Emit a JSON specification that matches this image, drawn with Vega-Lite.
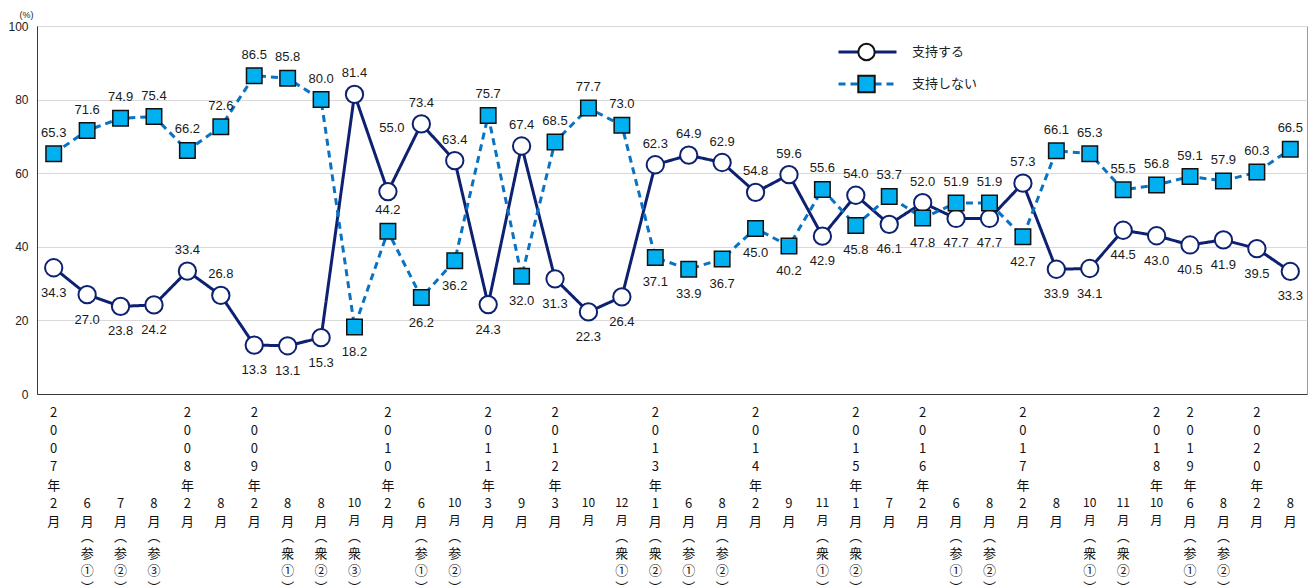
{
  "$schema": "https://vega.github.io/schema/vega-lite/v6.json",
  "width": 1270,
  "height": 368,
  "autosize": {"type": "none"},
  "padding": {"left": 37, "top": 26, "right": 5, "bottom": 191},
  "background": "white",
  "config": {
    "view": {"stroke": "#9a9a9a", "strokeWidth": 1},
    "font": "Liberation Sans",
    "legend": {"padding": 0}
  },
  "data": {
    "values": [
      {"n": 0, "year": "2007", "month": "2", "note": "", "支持する": 34.3, "支持しない": 65.3},
      {"n": 1, "year": "", "month": "6", "note": "参①", "支持する": 27.0, "支持しない": 71.6},
      {"n": 2, "year": "", "month": "7", "note": "参②", "支持する": 23.8, "支持しない": 74.9},
      {"n": 3, "year": "", "month": "8", "note": "参③", "支持する": 24.2, "支持しない": 75.4},
      {"n": 4, "year": "2008", "month": "2", "note": "", "支持する": 33.4, "支持しない": 66.2},
      {"n": 5, "year": "", "month": "8", "note": "", "支持する": 26.8, "支持しない": 72.6},
      {"n": 6, "year": "2009", "month": "2", "note": "", "支持する": 13.3, "支持しない": 86.5},
      {"n": 7, "year": "", "month": "8", "note": "衆①", "支持する": 13.1, "支持しない": 85.8},
      {"n": 8, "year": "", "month": "8", "note": "衆②", "支持する": 15.3, "支持しない": 80.0},
      {"n": 9, "year": "", "month": "10", "note": "衆③", "支持する": 81.4, "支持しない": 18.2},
      {"n": 10, "year": "2010", "month": "2", "note": "", "支持する": 55.0, "支持しない": 44.2},
      {"n": 11, "year": "", "month": "6", "note": "参①", "支持する": 73.4, "支持しない": 26.2},
      {"n": 12, "year": "", "month": "10", "note": "参②", "支持する": 63.4, "支持しない": 36.2},
      {"n": 13, "year": "2011", "month": "3", "note": "", "支持する": 24.3, "支持しない": 75.7},
      {"n": 14, "year": "", "month": "9", "note": "", "支持する": 67.4, "支持しない": 32.0},
      {"n": 15, "year": "2012", "month": "3", "note": "", "支持する": 31.3, "支持しない": 68.5},
      {"n": 16, "year": "", "month": "10", "note": "", "支持する": 22.3, "支持しない": 77.7},
      {"n": 17, "year": "", "month": "12", "note": "衆①", "支持する": 26.4, "支持しない": 73.0},
      {"n": 18, "year": "2013", "month": "1", "note": "衆②", "支持する": 62.3, "支持しない": 37.1},
      {"n": 19, "year": "", "month": "6", "note": "参①", "支持する": 64.9, "支持しない": 33.9},
      {"n": 20, "year": "", "month": "8", "note": "参②", "支持する": 62.9, "支持しない": 36.7},
      {"n": 21, "year": "2014", "month": "2", "note": "", "支持する": 54.8, "支持しない": 45.0},
      {"n": 22, "year": "", "month": "9", "note": "", "支持する": 59.6, "支持しない": 40.2},
      {"n": 23, "year": "", "month": "11", "note": "衆①", "支持する": 42.9, "支持しない": 55.6},
      {"n": 24, "year": "2015", "month": "1", "note": "衆②", "支持する": 54.0, "支持しない": 45.8},
      {"n": 25, "year": "", "month": "7", "note": "", "支持する": 46.1, "支持しない": 53.7},
      {"n": 26, "year": "2016", "month": "2", "note": "", "支持する": 52.0, "支持しない": 47.8},
      {"n": 27, "year": "", "month": "6", "note": "参①", "支持する": 47.7, "支持しない": 51.9},
      {"n": 28, "year": "", "month": "8", "note": "参②", "支持する": 47.7, "支持しない": 51.9},
      {"n": 29, "year": "2017", "month": "2", "note": "", "支持する": 57.3, "支持しない": 42.7},
      {"n": 30, "year": "", "month": "8", "note": "", "支持する": 33.9, "支持しない": 66.1},
      {"n": 31, "year": "", "month": "10", "note": "衆①", "支持する": 34.1, "支持しない": 65.3},
      {"n": 32, "year": "", "month": "11", "note": "衆②", "支持する": 44.5, "支持しない": 55.5},
      {"n": 33, "year": "2018", "month": "10", "note": "", "支持する": 43.0, "支持しない": 56.8},
      {"n": 34, "year": "2019", "month": "6", "note": "参①", "支持する": 40.5, "支持しない": 59.1},
      {"n": 35, "year": "", "month": "8", "note": "参②", "支持する": 41.9, "支持しない": 57.9},
      {"n": 36, "year": "2020", "month": "2", "note": "", "支持する": 39.5, "支持しない": 60.3},
      {"n": 37, "year": "", "month": "8", "note": "", "支持する": 33.3, "支持しない": 66.5}
    ]
  },
  "transform": [
    {"fold": ["支持する", "支持しない"], "as": ["series", "value"]}
  ],
  "encoding": {
    "x": {
      "field": "n",
      "type": "ordinal",
      "sort": null,
      "scale": {"type": "point", "padding": 0.5},
      "axis": {"labels": false, "ticks": false, "title": null, "grid": false, "domainColor": "#3a3a3a", "domainWidth": 1}
    }
  },
  "layer": [
    {
      "mark": {"type": "line", "strokeWidth": 3},
      "encoding": {
        "y": {
          "field": "value",
          "type": "quantitative",
          "scale": {"domain": [0, 100], "nice": false},
          "axis": {
            "values": [0, 20, 40, 60, 80, 100],
            "grid": true,
            "gridColor": "#d9d9d9",
            "ticks": false,
            "labelPadding": 9,
            "labelFontSize": 12,
            "labelColor": "#222222",
            "labelFont": "Liberation Sans",
            "domainColor": "#3a3a3a",
            "title": "(%)",
            "titleAngle": 0,
            "titleFontSize": 9,
            "titleFontWeight": "normal",
            "titleColor": "#222222",
            "titleX": -11,
            "titleY": -12,
            "titleAlign": "center",
            "titleBaseline": "middle"
          }
        },
        "stroke": {
          "field": "series",
          "type": "nominal",
          "scale": {"domain": ["支持する", "支持しない"], "range": ["#0d2170", "#0a72c2"]},
          "legend": {
            "orient": "none",
            "legendX": 800,
            "legendY": 16,
            "title": null,
            "symbolType": "stroke",
            "symbolSize": 3364,
            "symbolStrokeWidth": 3,
            "clipHeight": 20,
            "rowPadding": 12,
            "labelFont": "Noto Sans CJK JP",
            "labelFontSize": 13,
            "labelColor": "#222222",
            "labelOffset": 14
          }
        },
        "strokeDash": {
          "field": "series",
          "type": "nominal",
          "scale": {"domain": ["支持する", "支持しない"], "range": [[1, 0], [7, 5]]},
          "legend": {
            "orient": "none",
            "legendX": 800,
            "legendY": 16,
            "title": null,
            "symbolType": "stroke",
            "symbolSize": 3364,
            "symbolStrokeWidth": 3,
            "clipHeight": 20,
            "rowPadding": 12,
            "labelFont": "Noto Sans CJK JP",
            "labelFontSize": 13,
            "labelColor": "#222222",
            "labelOffset": 14
          }
        }
      }
    },
    {
      "mark": {"type": "point", "filled": true, "opacity": 1},
      "encoding": {
        "y": {"field": "value", "type": "quantitative"},
        "shape": {
          "field": "series",
          "type": "nominal",
          "sort": "descending",
          "scale": {"range": ["circle", "square"]},
          "legend": {
            "orient": "none",
            "legendX": 820,
            "legendY": 16,
            "title": null,
            "symbolSize": 270,
            "symbolStrokeWidth": 2,
            "clipHeight": 20,
            "rowPadding": 12,
            "labelOpacity": 0,
            "labelFontSize": 13,
            "encode": {
              "symbols": {
                "update": {
                  "stroke": {"signal": "datum.value === '支持する' ? '#0d2170' : '#111111'"},
                  "strokeWidth": {"signal": "datum.value === '支持する' ? 2 : 1.5"},
                  "opacity": {"value": 1}
                }
              }
            }
          }
        },
        "fill": {
          "field": "series",
          "type": "nominal",
          "sort": "descending",
          "scale": {"range": ["#ffffff", "#00b0f0"]},
          "legend": {
            "orient": "none",
            "legendX": 820,
            "legendY": 16,
            "title": null,
            "symbolSize": 270,
            "symbolStrokeWidth": 2,
            "clipHeight": 20,
            "rowPadding": 12,
            "labelOpacity": 0,
            "labelFontSize": 13,
            "encode": {
              "symbols": {
                "update": {
                  "stroke": {"signal": "datum.value === '支持する' ? '#0d2170' : '#111111'"},
                  "strokeWidth": {"signal": "datum.value === '支持する' ? 2 : 1.5"},
                  "opacity": {"value": 1}
                }
              }
            }
          }
        },
        "stroke": {"condition": {"test": "datum.series === '支持する'", "value": "#0d2170"}, "value": "#111111"},
        "strokeWidth": {"condition": {"test": "datum.series === '支持する'", "value": 2}, "value": 1.5},
        "size": {"condition": {"test": "datum.series === '支持する'", "value": 300}, "value": 240}
      }
    },
    {
      "transform": [{"filter": "datum.series === '支持する' && indexof([4,5,9,11,12,14,18,19,20,21,22,24,26,29], datum.n) >= 0"}],
      "mark": {"type": "text", "baseline": "middle", "dy": -21, "fontSize": 13, "color": "#1a1a1a"},
      "encoding": {"y": {"field": "value", "type": "quantitative"}, "text": {"field": "value", "type": "quantitative", "format": ".1f"}}
    },
    {
      "transform": [{"filter": "datum.series === '支持する' && datum.n === 10"}],
      "mark": {"type": "text", "baseline": "middle", "dy": -64, "dx": 4, "fontSize": 13, "color": "#1a1a1a"},
      "encoding": {"y": {"field": "value", "type": "quantitative"}, "text": {"field": "value", "type": "quantitative", "format": ".1f"}}
    },
    {
      "transform": [{"filter": "datum.series === '支持する' && indexof([4,5,9,10,11,12,14,18,19,20,21,22,24,26,29], datum.n) < 0"}],
      "mark": {"type": "text", "baseline": "middle", "dy": 25, "fontSize": 13, "color": "#1a1a1a"},
      "encoding": {"y": {"field": "value", "type": "quantitative"}, "text": {"field": "value", "type": "quantitative", "format": ".1f"}}
    },
    {
      "transform": [{"filter": "datum.series === '支持しない' && indexof([9,11,12,14,18,19,20,21,22,24,26,29], datum.n) < 0"}],
      "mark": {"type": "text", "baseline": "middle", "dy": -21, "fontSize": 13, "color": "#1a1a1a"},
      "encoding": {"y": {"field": "value", "type": "quantitative"}, "text": {"field": "value", "type": "quantitative", "format": ".1f"}}
    },
    {
      "transform": [{"filter": "datum.series === '支持しない' && indexof([9,11,12,14,18,19,20,21,22,24,26,29], datum.n) >= 0"}],
      "mark": {"type": "text", "baseline": "middle", "dy": 25, "fontSize": 13, "color": "#1a1a1a"},
      "encoding": {"y": {"field": "value", "type": "quantitative"}, "text": {"field": "value", "type": "quantitative", "format": ".1f"}}
    },
    {
      "transform": [
        {"filter": "datum.series === '支持する' && datum.year !== ''"},
        {"calculate": "split(datum.year + '年', '')", "as": "ylines"}
      ],
      "mark": {"type": "text", "baseline": "top", "dy": 12.5, "lineHeight": 18.25, "fontSize": 13, "font": "Noto Sans CJK JP", "color": "#111111"},
      "encoding": {"y": {"datum": 0, "type": "quantitative"}, "text": {"field": "ylines", "type": "nominal"}}
    },
    {
      "transform": [
        {"filter": "datum.series === '支持する'"},
        {"calculate": "[datum.month, '月']", "as": "mlines"}
      ],
      "mark": {"type": "text", "baseline": "top", "dy": 103.75, "lineHeight": 18.25, "font": "Noto Sans CJK JP", "color": "#111111"},
      "encoding": {
        "y": {"datum": 0, "type": "quantitative"},
        "text": {"field": "mlines", "type": "nominal"},
        "size": {"condition": {"test": "length(datum.month) > 1", "value": 12}, "value": 13}
      }
    },
    {
      "transform": [
        {"filter": "datum.series === '支持する' && datum.note !== ''"},
        {"calculate": "['︵', slice(datum.note, 0, 1), slice(datum.note, 1), '︶']", "as": "nlines"}
      ],
      "mark": {"type": "text", "baseline": "top", "dy": 137, "lineHeight": 17, "fontSize": 13, "font": "Noto Sans CJK JP", "color": "#111111"},
      "encoding": {"y": {"datum": 0, "type": "quantitative"}, "text": {"field": "nlines", "type": "nominal"}}
    }
  ]
}
